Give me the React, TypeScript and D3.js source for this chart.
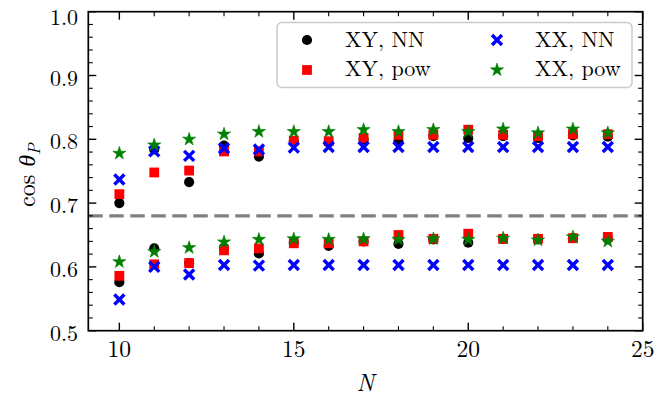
import React from "react";
import * as d3 from "d3";

const N = [10, 11, 12, 13, 14, 15, 16, 17, 18, 19, 20, 21, 22, 23, 24];

const xyNNUpper = [0.700, 0.784, 0.733, 0.790, 0.773, 0.797, 0.795, 0.800, 0.796, 0.805, 0.802, 0.805, 0.802, 0.806, 0.804];
const xyNNLower = [0.576, 0.629, 0.606, 0.630, 0.621, 0.638, 0.633, 0.640, 0.636, 0.643, 0.638, 0.644, 0.643, 0.645, 0.644];

const xyPowUpper = [0.714, 0.748, 0.751, 0.781, 0.781, 0.798, 0.797, 0.802, 0.807, 0.807, 0.815, 0.807, 0.805, 0.808, 0.808];
const xyPowLower = [0.586, 0.604, 0.606, 0.626, 0.629, 0.637, 0.637, 0.640, 0.650, 0.644, 0.652, 0.644, 0.644, 0.645, 0.647];

const xxNNUpper = [0.737, 0.781, 0.774, 0.786, 0.784, 0.787, 0.788, 0.788, 0.788, 0.788, 0.788, 0.788, 0.788, 0.788, 0.788];
const xxNNLower = [0.549, 0.600, 0.588, 0.603, 0.602, 0.603, 0.603, 0.603, 0.603, 0.603, 0.603, 0.603, 0.603, 0.603, 0.603];

const xxPowUpper = [0.778, 0.791, 0.800, 0.808, 0.812, 0.812, 0.812, 0.815, 0.812, 0.815, 0.812, 0.816, 0.810, 0.816, 0.810];
const xxPowLower = [0.608, 0.624, 0.630, 0.639, 0.643, 0.644, 0.643, 0.644, 0.643, 0.644, 0.643, 0.645, 0.642, 0.647, 0.640];

const threshold = 0.68;

const xMajorTicks = [10, 15, 20, 25];
const xMinorTicks = [10, 11, 12, 13, 14, 15, 16, 17, 18, 19, 20, 21, 22, 23, 24, 25];
const yMajorTicks = [0.5, 0.6, 0.7, 0.8, 0.9, 1.0];
const yMinorTicks = [0.5, 0.52, 0.54, 0.56, 0.58, 0.6, 0.62, 0.64, 0.66, 0.68, 0.7, 0.72, 0.74, 0.76, 0.78, 0.8, 0.82, 0.84, 0.86, 0.88, 0.9, 0.92, 0.94, 0.96, 0.98, 1.0];

const legendLabels = ["XY, NN", "XY, pow", "XX, NN", "XX, pow"];

const W = 656;
const H = 401;
const left = 88.3;
const right = 642.7;
const top = 11.7;
const bottom = 330.7;

const FONT = "'Latin Modern Roman', 'CMU Serif', 'Liberation Serif', serif";

const x = d3.scaleLinear().domain([9.11, 25]).range([left, right]);
const y = d3.scaleLinear().domain([0.5, 1.0]).range([bottom, top]);

const starPath = d3.symbol(d3.symbolStar, 54)() as string;

type Kind = "circle" | "square" | "x" | "star";

function Marker({ kind, cx, cy }: { kind: Kind; cx: number; cy: number }) {
  const t = `translate(${cx},${cy})`;
  if (kind === "circle") return <circle transform={t} r={5.1} fill="#000000" />;
  if (kind === "square") return <rect transform={t} x={-4.9} y={-4.9} width={9.8} height={9.8} fill="#ff0000" />;
  if (kind === "x")
    return (
      <path
        transform={t}
        d="M-5,-5L5,5M-5,5L5,-5"
        stroke="#0000ff"
        strokeWidth={3.4}
        fill="none"
      />
    );
  return <path transform={t} d={starPath} fill="#008000" stroke="#008000" strokeWidth={0.6} />;
}

const series: { kind: Kind; sets: number[][] }[] = [
  { kind: "circle", sets: [xyNNUpper, xyNNLower] },
  { kind: "square", sets: [xyPowUpper, xyPowLower] },
  { kind: "x", sets: [xxNNUpper, xxNNLower] },
  { kind: "star", sets: [xxPowUpper, xxPowLower] },
];

export default function App() {
  const majorLen = 8;
  const minorLen = 4.5;
  const tickColor = "#000";
  return (
    <svg
      width={W}
      height={H}
      viewBox={`0 0 ${W} ${H}`}
      style={{ position: "absolute", left: 0, top: 0, background: "#fff" }}
      fontFamily={FONT}
    >
      <rect x={0} y={0} width={W} height={H} fill="#fff" />

      {/* dashed threshold line */}
      <line
        x1={left}
        x2={right}
        y1={y(threshold)}
        y2={y(threshold)}
        stroke="#808080"
        strokeWidth={3.2}
        strokeDasharray="14.5 6.5"
      />

      {/* data */}
      {series.map((s) =>
        s.sets.map((vals, si) =>
          vals.map((v, i) => (
            <Marker key={`${s.kind}-${si}-${i}`} kind={s.kind} cx={x(N[i])} cy={y(v)} />
          ))
        )
      )}

      {/* minor ticks */}
      {xMinorTicks
        .filter((t) => !xMajorTicks.includes(t))
        .map((t) => (
          <g key={`xm${t}`} stroke={tickColor} strokeWidth={1.1}>
            <line x1={x(t)} x2={x(t)} y1={bottom} y2={bottom - minorLen} />
            <line x1={x(t)} x2={x(t)} y1={top} y2={top + minorLen} />
          </g>
        ))}
      {yMinorTicks
        .filter((t) => !yMajorTicks.some((m) => Math.abs(m - t) < 1e-6))
        .map((t) => (
          <g key={`ym${t}`} stroke={tickColor} strokeWidth={1.1}>
            <line x1={left} x2={left + minorLen} y1={y(t)} y2={y(t)} />
            <line x1={right} x2={right - minorLen} y1={y(t)} y2={y(t)} />
          </g>
        ))}

      {/* major ticks */}
      {xMajorTicks.map((t) => (
        <g key={`xM${t}`} stroke={tickColor} strokeWidth={1.4}>
          <line x1={x(t)} x2={x(t)} y1={bottom} y2={bottom - majorLen} />
          <line x1={x(t)} x2={x(t)} y1={top} y2={top + majorLen} />
        </g>
      ))}
      {yMajorTicks.map((t) => (
        <g key={`yM${t}`} stroke={tickColor} strokeWidth={1.4}>
          <line x1={left} x2={left + majorLen} y1={y(t)} y2={y(t)} />
          <line x1={right} x2={right - majorLen} y1={y(t)} y2={y(t)} />
        </g>
      ))}

      {/* frame */}
      <rect
        x={left}
        y={top}
        width={right - left}
        height={bottom - top}
        fill="none"
        stroke="#000"
        strokeWidth={1.7}
      />

      {/* tick labels */}
      {xMajorTicks.map((t) => (
        <text key={`xl${t}`} x={x(t)} y={356.5} textAnchor="middle" fontSize={23.5} fill="#000">
          {String(t)}
        </text>
      ))}
      {yMajorTicks.map((t) => (
        <text key={`yl${t}`} x={78} y={Math.max(y(t) + 10, 24.5)} textAnchor="end" fontSize={22} fill="#000">
          {t.toFixed(1)}
        </text>
      ))}

      {/* axis labels */}
      <text x={(left + right) / 2} y={391} textAnchor="middle" fontSize={24} fontStyle="italic" fill="#000">
        N
      </text>
      <text transform={`translate(35,${(top + bottom) / 2 + 4}) rotate(-90)`} textAnchor="middle" fontSize={24} fill="#000">
        <tspan>cos </tspan>
        <tspan fontStyle="italic">θ</tspan>
        <tspan fontStyle="italic" fontSize={17} dy={5}>P</tspan>
      </text>

      {/* legend */}
      <g>
        <rect x={277} y={22.5} width={355} height={65} rx={5} fill="#fff" fillOpacity={0.8} stroke="#cccccc" strokeWidth={1.5} />
        {legendLabels.map((lab, i) => {
          const col = Math.floor(i / 2);
          const row = i % 2;
          const mx = col === 0 ? 307 : 497;
          const my = row === 0 ? 40 : 70;
          const tx = col === 0 ? 345 : 535;
          const kind = series[i].kind;
          return (
            <g key={lab}>
              <Marker kind={kind} cx={mx} cy={my} />
              <text x={tx} y={row === 0 ? 47 : 76} fontSize={22} fill="#000">
                {lab}
              </text>
            </g>
          );
        })}
      </g>
    </svg>
  );
}
